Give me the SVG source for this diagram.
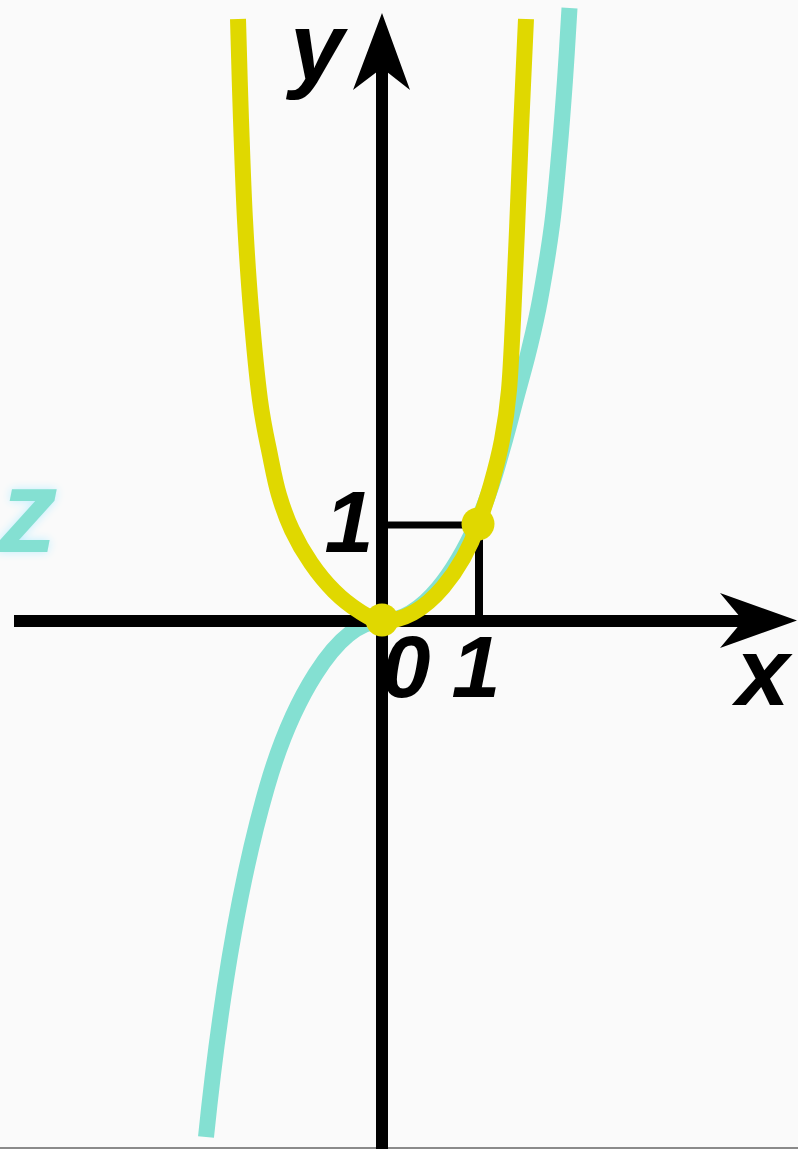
<svg xmlns="http://www.w3.org/2000/svg" width="798" height="1149" viewBox="0 0 798 1149">
<defs>
<style>
.lbl{font-family:"Liberation Sans",Arial,sans-serif;font-weight:bold;font-style:italic;fill:#000}
.axis{stroke:#000;stroke-width:12;fill:none}
.tick{stroke:#000;fill:none}
.cubic{stroke:#84E0D2;stroke-width:16;fill:none;stroke-linecap:butt;stroke-linejoin:round}
.quart{stroke:#E0D800;stroke-width:16;fill:none;stroke-linecap:butt;stroke-linejoin:round}
.dot{fill:#E0D800}
</style>
<filter id="glow" x="-50%" y="-50%" width="200%" height="200%">
<feGaussianBlur in="SourceAlpha" stdDeviation="5" result="b"/>
<feFlood flood-color="#BFEFFF" result="c"/>
<feComposite in="c" in2="b" operator="in" result="g"/>
<feMerge><feMergeNode in="g"/><feMergeNode in="SourceGraphic"/></feMerge>
</filter>
</defs>
<rect x="0" y="0" width="798" height="1149" fill="#FAFAFA"/>
<line x1="0" y1="1148" x2="798" y2="1148" stroke="#8a8a8a" stroke-width="2"/>

<g id="curve-cubic">
<path class="cubic" d="M206,1137 C218,1020 238,887 267,787 C290,707 335,621 382,621 C425,621 457.6,565 476,525 C483.3,509.8 487.2,498.2 492,484 C496.8,469.8 500.8,454.8 505,440 C509.2,425.2 513,410 517,395 C521,380 525.2,365.8 529,350 C532.8,334.2 536.2,320.8 540,300 C543.8,279.2 548.75,250 552,225 C555.25,200 557.3,174.2 559.5,150 C561.7,125.8 563.3,103.7 565,80 C566.7,56.3 568.75,20 569.5,8"/>
</g>

<g id="axes">
<line class="axis" x1="14" y1="621" x2="745" y2="621"/>
<line class="axis" x1="382" y1="68" x2="382" y2="1149"/>
<polygon points="382,13 410,90 382,68 353,90" fill="#000"/>
<polygon points="797,620.5 720,593 743,620.5 720,648" fill="#000"/>
</g>

<g id="unit-marks">
<line class="tick" x1="388" y1="525" x2="479" y2="525" stroke-width="7"/>
<line class="tick" x1="479" y1="525" x2="479" y2="615" stroke-width="8"/>
</g>

<g id="curve-quartic">
<path class="quart" d="M238,19 C238.5,35.8 239.8,86.5 241,120 C242.2,153.5 243.3,188.3 245,220 C246.7,251.7 248.5,280 251,310 C253.5,340 256.8,375.8 260,400 C263.2,424.2 266.8,439.2 270,455 C273.2,470.8 275.3,482.5 279,495 C282.7,507.5 286.7,518.7 292,530 C297.3,541.3 304,552.8 311,563 C318,573.2 326,583 334,591 C342,599 351,606 359,611 C367,616 374.3,621 382,621 C430,621 465,562.5 478,525 C482.3,512.5 487,499.2 491,485 C495,470.8 499,455.8 502,440 C505,424.2 507.2,410 509,390 C510.8,370 511.7,346.7 513,320 C514.3,293.3 515.7,261.7 517,230 C518.3,198.3 519.5,165.2 521,130 C522.5,94.8 525.2,37.5 526,19"/>
</g>

<g id="points">
<circle class="dot" cx="382" cy="620" r="16.5"/>
<circle class="dot" cx="478" cy="524" r="16.5"/>
</g>

<g id="labels">
<text class="lbl" x="290" y="80" font-size="97">y</text>
<text class="lbl" x="736" y="705" font-size="96">x</text>
<text class="lbl" x="349" y="552" font-size="88" text-anchor="middle">1</text>
<text class="lbl" x="406" y="697" font-size="88" text-anchor="middle">0</text>
<text class="lbl" x="476" y="697" font-size="88" text-anchor="middle">1</text>
<text x="-2" y="552" font-size="119" font-family="'Liberation Sans',Arial,sans-serif" font-weight="bold" font-style="italic" fill="#84E0D2" filter="url(#glow)">z</text>
</g>
</svg>
